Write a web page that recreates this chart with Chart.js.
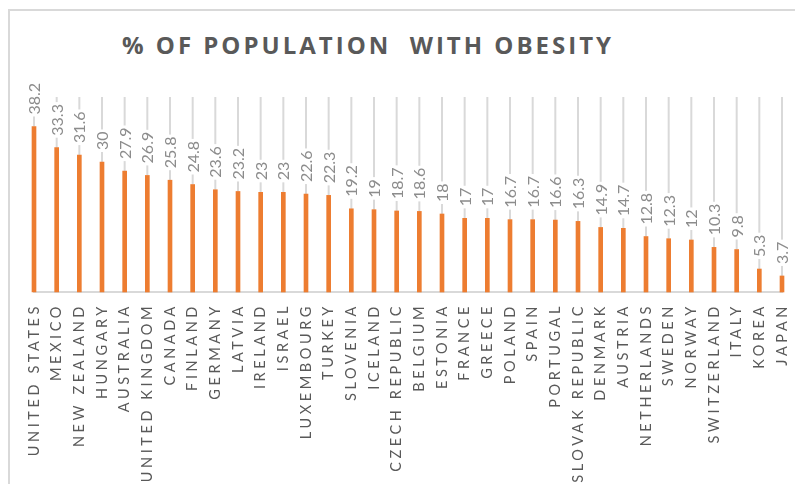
<!DOCTYPE html>
<html>
<head>
<meta charset="utf-8">
<script src="https://cdn.jsdelivr.net/npm/chart.js"></script>
<style>
  html, body { margin: 0; padding: 0; background: #fff; overflow: hidden; }
  #frame {
    position: absolute; left: 8px; top: 9px; width: 1000px; height: 1000px;
    border: 2px solid #d9d9d9;
  }
  #title {
    position: absolute; left: 0; width: 736px; top: 28px; text-align: center;
    font: bold 24px "Open Sans", sans-serif; letter-spacing: 3px; color: #595959;
    white-space: pre;
  }
  #wrap { position: absolute; left: 0; top: 0; width: 795px; height: 484px; }
</style>
</head>
<body>
<div id="frame"></div>
<div id="title">% OF POPULATION  WITH OBESITY</div>
<div id="wrap"><canvas id="chart"></canvas></div>
<script>
const countries = [
    'UNITED STATES', 'MEXICO', 'NEW ZEALAND', 'HUNGARY', 'AUSTRALIA', 'UNITED KINGDOM',
    'CANADA', 'FINLAND', 'GERMANY', 'LATVIA', 'IRELAND', 'ISRAEL', 'LUXEMBOURG', 'TURKEY',
    'SLOVENIA', 'ICELAND', 'CZECH REPUBLIC', 'BELGIUM', 'ESTONIA', 'FRANCE', 'GREECE',
    'POLAND', 'SPAIN', 'PORTUGAL', 'SLOVAK REPUBLIC', 'DENMARK', 'AUSTRIA', 'NETHERLANDS',
    'SWEDEN', 'NORWAY', 'SWITZERLAND', 'ITALY', 'KOREA', 'JAPAN'
];
const obesity = [
    38.2, 33.3, 31.6, 30, 27.9, 26.9,
    25.8, 24.8, 23.6, 23.2, 23, 23, 22.6, 22.3,
    19.2, 19, 18.7, 18.6, 18, 17, 17,
    16.7, 16.7, 16.6, 16.3, 14.9, 14.7, 12.8,
    12.3, 12, 10.3, 9.8, 5.3, 3.7
];

// spaced-out caps for the axis labels, plain text for the value labels
const spacing = {
    id: 'spacing',
    beforeDraw(chart) { chart.ctx.letterSpacing = '3.6px'; },
    beforeDatasetsDraw(chart) { chart.ctx.letterSpacing = '0px'; }
};

// thin grey line from the top of the plot down to each bar
const leaders = {
    id: 'leaders',
    beforeDatasetsDraw(chart) {
        const ctx = chart.ctx;
        const top = chart.chartArea.top;
        ctx.save();
        ctx.strokeStyle = '#d9d9d9';
        ctx.lineWidth = 2;
        chart.getDatasetMeta(0).data.forEach(bar => {
            ctx.beginPath();
            ctx.moveTo(bar.x, top);
            ctx.lineTo(bar.x, bar.y);
            ctx.stroke();
        });
        ctx.restore();
    }
};

// rotated value labels sitting above the bars
const valueLabels = {
    id: 'valueLabels',
    afterDatasetsDraw(chart) {
        const ctx = chart.ctx;
        ctx.save();
        ctx.font = '16px Lato, sans-serif';
        ctx.textBaseline = 'middle';
        ctx.textAlign = 'left';
        chart.getDatasetMeta(0).data.forEach((bar, i) => {
            const txt = String(obesity[i]);
            const w = ctx.measureText(txt).width;
            ctx.save();
            ctx.translate(bar.x, bar.y - 12);
            ctx.rotate(-Math.PI / 2);
            ctx.fillStyle = '#fff';
            ctx.fillRect(-2, -8, w + 4, 16);
            ctx.fillStyle = '#8c8c8c';
            ctx.fillText(txt, 0, 1);
            ctx.restore();
        });
        ctx.restore();
    }
};

new Chart(document.getElementById('chart'), {
    type: 'bar',
    data: {
        labels: countries,
        datasets: [{
            data: obesity,
            backgroundColor: '#ed7d31',
            barThickness: 4,
            clip: false
        }]
    },
    options: {
        responsive: true,
        maintainAspectRatio: false,
        animation: false,
        layout: { padding: { top: 97, left: 34, right: 0, bottom: 0 } },
        plugins: {
            legend: { display: false },
            title: { display: false },
            tooltip: { enabled: false }
        },
        scales: {
            x: {
                offset: false,
                grid: { display: false, drawTicks: false },
                border: { color: '#d9d9d9', width: 2 },
                ticks: {
                    autoSkip: false,
                    minRotation: 90,
                    maxRotation: 90,
                    padding: 11,
                    color: '#595959',
                    font: { family: 'Lato, sans-serif', size: 14.5 }
                },
                afterFit(scale) {
                    scale.height = 192;
                    scale.paddingLeft = 0;
                    scale.paddingRight = 13;
                }
            },
            y: {
                display: false,
                min: 0,
                max: 45
            }
        }
    },
    plugins: [spacing, leaders, valueLabels]
});
</script>
</body>
</html>
